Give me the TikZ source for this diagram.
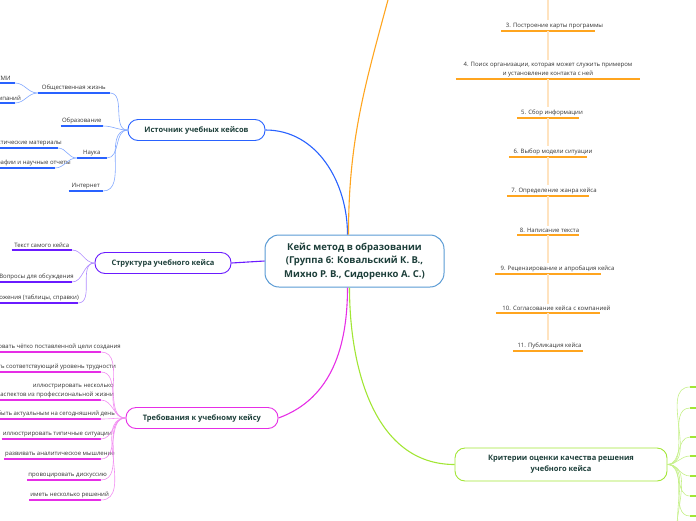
\documentclass[tikz,border=0pt]{standalone}
\usepackage{fontspec}
\setmainfont{Open Sans}
\usepackage{tikz}
\usetikzlibrary{positioning}
\definecolor{ink}{HTML}{1D3F3A}
\definecolor{leaftxt}{HTML}{333333}
\definecolor{hubline}{HTML}{5A9BD4}
\definecolor{srcblue}{HTML}{2962FF}
\definecolor{srctwig}{HTML}{82A8FF}
\definecolor{structvio}{HTML}{6A1BFF}
\definecolor{structtwig}{HTML}{B08CFF}
\definecolor{reqmag}{HTML}{E62EE6}
\definecolor{reqtwig}{HTML}{F28EF2}
\definecolor{steporange}{HTML}{FFA51F}
\definecolor{steppale}{HTML}{FFE3BF}
\definecolor{critlime}{HTML}{A2E635}
\definecolor{crittwig}{HTML}{C6F08A}

\begin{document}
\begin{tikzpicture}[
  x=1pt, y=1pt,
  hub/.style={rectangle, rounded corners=14pt, draw=hubline, line width=1pt, fill=white, text=ink, align=center, minimum width=179pt, minimum height=52pt, font=\bfseries\fontsize{9.5}{13.5}\selectfont},
  topic/.style={rectangle, rounded corners=10pt, draw=#1, line width=0.9pt, fill=white, text=ink, align=center, minimum height=21pt, font=\bfseries\fontsize{7.5}{11}\selectfont},
  leaf/.style 2 args={font=\fontsize{6}{8.5}\selectfont, text=leaftxt, inner xsep=1pt, inner ysep=2.2pt, minimum width=#1,
    append after command={\pgfextra{\let\lastleaf=\tikzlastnode} (\lastleaf.south west) edge[draw=#2, line width=1.6pt] (\lastleaf.south east)}},
  spill/.style={execute at end node={\kern-#1}},
  branch/.style={line width=1.1pt, draw=#1},
  twig/.style={line width=0.6pt, draw=#1}
]
\useasboundingbox (0,0) rectangle (696,-520);
\clip (0,0) rectangle (696,-520);

\node[hub] (hub) at (354.5,-261) {Кейс метод в образовании\\(Группа 6: Ковальский К. В.,\\Михно Р. В., Сидоренко А. С.)};

\node[topic=srcblue, minimum width=137pt] (src) at (196.5,-130) {Источник учебных кейсов};
\node[topic=structvio, minimum width=136pt] (struct) at (163,-263) {Структура учебного кейса};
\node[topic=reqmag, minimum width=152pt] (req) at (202,-418) {Требования к учебному кейсу};
\node[topic=critlime, minimum width=212pt, minimum height=33pt] (crit) at (561,-464.5) {Критерии оценки качества решения\\учебного кейса};

\node[leaf={72pt}{srcblue}, anchor=south east] (soc) at (110,-93) {Общественная жизнь};
\node[leaf={22pt}{srcblue}, anchor=south east] (smi) at (15,-83) {СМИ};
\node[leaf={30pt}{srcblue}, anchor=south east, spill=7pt] (cmp) at (15,-103) {Сайты компаний};
\node[leaf={42pt}{srcblue}, anchor=south east] (edu) at (103,-126) {Образование};
\node[leaf={30pt}{srcblue}, anchor=south east] (sci) at (107,-158) {Наука};
\node[leaf={58pt}{srcblue}, anchor=south east, spill=5pt] (stat) at (58,-148) {Статистические материалы};
\node[leaf={55pt}{srcblue}, anchor=south east, spill=17pt] (mono) at (55,-168) {Монографии и научные отчеты};
\node[leaf={34pt}{srcblue}, anchor=south east] (web) at (103,-191) {Интернет};

\node[leaf={60pt}{structvio}, anchor=south east] (txt) at (72,-250) {Текст самого кейса};
\node[leaf={60pt}{structvio}, anchor=south east, spill=3pt] (qst) at (72,-282) {Вопросы для обсуждения};
\node[leaf={60pt}{structvio}, anchor=south east, spill=2pt] (app) at (78,-303) {Приложения (таблицы, справки)};

\node[leaf={60pt}{reqmag}, anchor=south east, spill=21pt] (aim) at (101,-352) {соответствовать чётко поставленной цели создания};
\node[leaf={60pt}{reqmag}, anchor=south east, spill=16pt] (level) at (101,-372) {иметь соответствующий уровень трудности};
\node[leaf={60pt}{reqmag}, anchor=south east, align=right] (aspects) at (101,-400) {иллюстрировать несколько\kern-14pt\\аспектов из профессиональной жизни\kern-14pt};
\node[leaf={60pt}{reqmag}, anchor=south east, spill=15pt] (actual) at (101,-419) {быть актуальным на сегодняшний день};
\node[leaf={60pt}{reqmag}, anchor=south east, spill=12pt] (typical) at (101,-439) {иллюстрировать типичные ситуации};
\node[leaf={60pt}{reqmag}, anchor=south east, spill=15pt] (think) at (101,-459) {развивать аналитическое мышление};
\node[leaf={60pt}{reqmag}, anchor=south east, spill=7pt] (discuss) at (101,-480) {провоцировать дискуссию};
\node[leaf={60pt}{reqmag}, anchor=south east, spill=9pt] (solve) at (101,-500) {иметь несколько решений};

\coordinate (stepsup) at (548,5);
\coordinate (stepsroot) at (392,15);
\node[leaf={93pt}{steporange}, anchor=south, spill=13pt] (map) at (548,-31) {3. Построение карты программы};
\node[leaf={184pt}{steporange}, anchor=south, align=center] (org) at (548,-79) {4. Поиск организации, которая может служить примером\\и установление контакта с ней};
\node[leaf={62pt}{steporange}, anchor=south, spill=8pt] (info) at (548,-118) {5. Сбор информации};
\node[leaf={78pt}{steporange}, anchor=south, spill=10pt] (model) at (548,-157) {6. Выбор модели ситуации};
\node[leaf={82pt}{steporange}, anchor=south, spill=12pt] (genre) at (548,-196) {7. Определение жанра кейса};
\node[leaf={61pt}{steporange}, anchor=south, spill=3pt] (write) at (548,-235) {8. Написание текста};
\node[leaf={105pt}{steporange}, anchor=south, spill=19pt] (review) at (548,-274) {9. Рецензирование и апробация кейса};
\node[leaf={104pt}{steporange}, anchor=south, spill=17pt] (agree) at (548,-313) {10. Согласование кейса с компанией};
\node[leaf={70pt}{steporange}, anchor=south, spill=3pt] (publish) at (548,-351) {11. Публикация кейса};

\node[leaf={30pt}{critlime}, anchor=south west] (k1) at (690,-387) {};
\node[leaf={30pt}{critlime}, anchor=south west] (k2) at (690,-408) {};
\node[leaf={30pt}{critlime}, anchor=south west] (k3) at (690,-437) {};
\node[leaf={30pt}{critlime}, anchor=south west] (k4) at (690,-456) {};
\node[leaf={30pt}{critlime}, anchor=south west] (k5) at (690,-476) {};
\node[leaf={30pt}{critlime}, anchor=south west] (k6) at (690,-496) {};
\node[leaf={30pt}{critlime}, anchor=south west] (k7) at (690,-516) {};
\node[leaf={30pt}{critlime}, anchor=south west] (k8) at (690,-536) {};
\node[leaf={30pt}{critlime}, anchor=south west] (k9) at (690,-556) {};

\draw[branch=srcblue] ([xshift=-7pt]hub.north) to[out=90, in=0] (src.east);
\draw[branch=steporange] ([xshift=-6pt]hub.north) to[out=90, in=-105] (stepsroot);
\draw[branch=structvio] (struct.east) -- (hub.west);
\draw[branch=reqmag] ([xshift=-7pt]hub.south) to[out=-90, in=20] (req.east);
\draw[branch=critlime] ([xshift=-5pt]hub.south) to[out=-90, in=180] (crit.west);

\draw[twig=srctwig] (src.west) to[out=180, in=0] (soc.south east);
\draw[twig=srctwig] (src.west) to[out=180, in=0] (edu.south east);
\draw[twig=srctwig] (src.west) to[out=180, in=0] (sci.south east);
\draw[twig=srctwig] (src.west) to[out=180, in=0] (web.south east);
\draw[twig=srctwig] (soc.south west) to[out=180, in=0] (smi.south east);
\draw[twig=srctwig] (soc.south west) to[out=180, in=0] (cmp.south east);
\draw[twig=srctwig] (sci.south west) to[out=180, in=0] (stat.south east);
\draw[twig=srctwig] (sci.south west) to[out=180, in=0] (mono.south east);

\draw[twig=structtwig] (struct.west) to[out=180, in=0] (txt.south east);
\draw[twig=structtwig] (struct.west) to[out=180, in=0] (qst.south east);
\draw[twig=structtwig] (struct.west) to[out=180, in=0] (app.south east);

\draw[twig=reqtwig] (req.west) to[out=180, in=0] (aim.south east);
\draw[twig=reqtwig] (req.west) to[out=180, in=0] (level.south east);
\draw[twig=reqtwig] (req.west) to[out=180, in=0] (aspects.south east);
\draw[twig=reqtwig] (req.west) to[out=180, in=0] (actual.south east);
\draw[twig=reqtwig] (req.west) to[out=180, in=0] (typical.south east);
\draw[twig=reqtwig] (req.west) to[out=180, in=0] (think.south east);
\draw[twig=reqtwig] (req.west) to[out=180, in=0] (discuss.south east);
\draw[twig=reqtwig] (req.west) to[out=180, in=0] (solve.south east);

\draw[line width=1.5pt, draw=steppale] (stepsup) -- (map.north);
\draw[line width=1.5pt, draw=steppale] (map.south) -- (org.north);
\draw[line width=1.5pt, draw=steppale] (org.south) -- (info.north);
\draw[line width=1.5pt, draw=steppale] (info.south) -- (model.north);
\draw[line width=1.5pt, draw=steppale] (model.south) -- (genre.north);
\draw[line width=1.5pt, draw=steppale] (genre.south) -- (write.north);
\draw[line width=1.5pt, draw=steppale] (write.south) -- (review.north);
\draw[line width=1.5pt, draw=steppale] (review.south) -- (agree.north);
\draw[line width=1.5pt, draw=steppale] (agree.south) -- (publish.north);

\draw[twig=crittwig] (crit.east) to[out=0, in=180] (k1.south west);
\draw[twig=crittwig] (crit.east) to[out=0, in=180] (k2.south west);
\draw[twig=crittwig] (crit.east) to[out=0, in=180] (k3.south west);
\draw[twig=crittwig] (crit.east) to[out=0, in=180] (k4.south west);
\draw[twig=crittwig] (crit.east) to[out=0, in=180] (k5.south west);
\draw[twig=crittwig] (crit.east) to[out=0, in=180] (k6.south west);
\draw[twig=crittwig] (crit.east) to[out=0, in=180] (k7.south west);
\draw[twig=crittwig] (crit.east) to[out=0, in=180] (k8.south west);
\draw[twig=crittwig] (crit.east) to[out=0, in=180] (k9.south west);
\end{tikzpicture}
\end{document}
